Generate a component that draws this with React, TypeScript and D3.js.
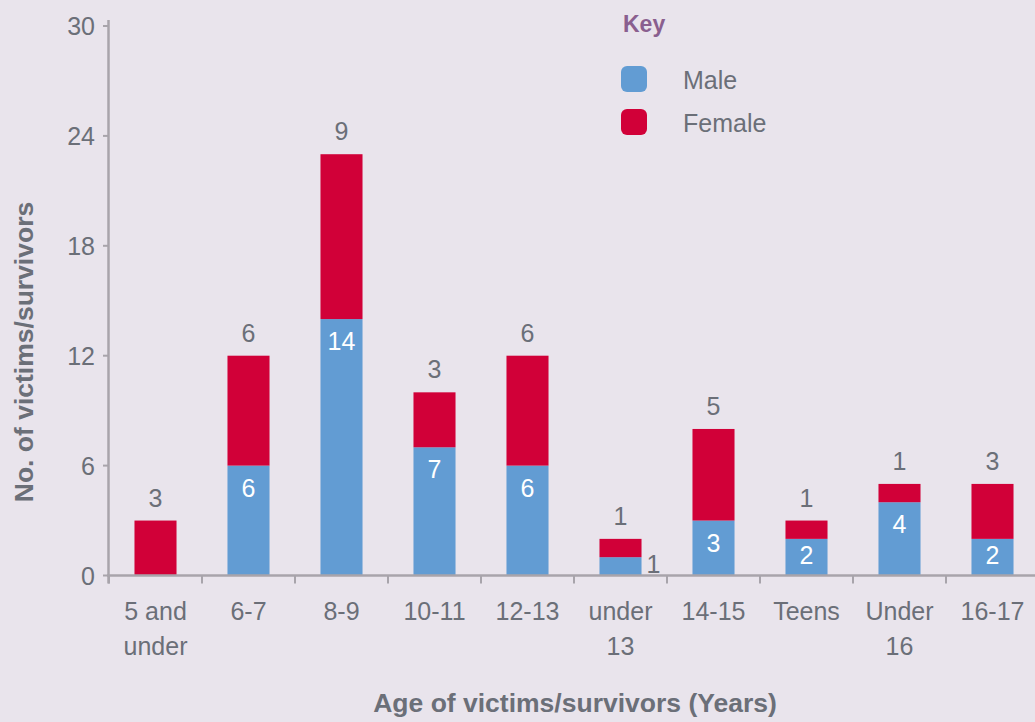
import React, { useEffect } from "react";
import * as d3 from "d3";

const categories = ["5 and under", "6-7", "8-9", "10-11", "12-13", "under 13", "14-15", "Teens", "Under 16", "16-17"];
const categoryLines = [["5 and", "under"], ["6-7"], ["8-9"], ["10-11"], ["12-13"], ["under", "13"], ["14-15"], ["Teens"], ["Under", "16"], ["16-17"]];
const male = [0, 6, 14, 7, 6, 1, 3, 2, 4, 2];
const female = [3, 6, 9, 3, 6, 1, 5, 1, 1, 3];
const yTicks = [0, 6, 12, 18, 24, 30];
const seriesNames = ["Male", "Female"];

const W = 1035;
const H = 722;
const BG = "#e9e4ec";
const MALE_C = "#629cd3";
const FEMALE_C = "#d10038";
const TEXT_C = "#6b6f78";
const AXIS_C = "#a8a4ab";
const FONT = "'Liberation Sans', Arial, Helvetica, sans-serif";

export default function App() {
  useEffect(() => {
    document.body.style.margin = "0";
    document.body.style.background = BG;
  }, []);

  const x = d3.scaleBand<string>().domain(categories).range([109, 1039]).padding(0);
  const y = d3.scaleLinear().domain([0, 30]).range([575.5, 26]);
  const bw = x.bandwidth() * 0.452;
  const axisY = y(0);
  const colors = [MALE_C, FEMALE_C];

  return (
    <svg width={W} height={H} style={{ display: "block", background: BG, fontFamily: FONT }}>
      <rect x={0} y={0} width={W} height={H} fill={BG} />
      {/* bars */}
      {categories.map((c, i) => {
        const cx = (x(c) as number) + x.bandwidth() / 2;
        const m = male[i];
        const f = female[i];
        const yMaleTop = y(m);
        const yTop = y(m + f);
        const segH = axisY - yMaleTop;
        return (
          <g key={c}>
            {m > 0 && (
              <rect x={cx - bw / 2} y={yMaleTop} width={bw} height={segH} fill={MALE_C} />
            )}
            {f > 0 && (
              <rect x={cx - bw / 2} y={yTop} width={bw} height={yMaleTop - yTop} fill={FEMALE_C} />
            )}
            {f > 0 && (
              <text x={cx} y={yTop - 14} textAnchor="middle" fontSize={25} fill={TEXT_C}>
                {f}
              </text>
            )}
            {m > 0 && segH >= 25 && (
              <text x={cx} y={Math.min(yMaleTop + 31, axisY - 12)} textAnchor="middle" fontSize={25} fill="#ffffff">
                {m}
              </text>
            )}
            {m > 0 && segH < 25 && (
              <text x={cx + bw / 2 + 5} y={axisY - 3} textAnchor="start" fontSize={25} fill={TEXT_C}>
                {m}
              </text>
            )}
            {categoryLines[i].map((ln, k) => (
              <text key={k} x={cx} y={620 + k * 35} textAnchor="middle" fontSize={25} fill={TEXT_C}>
                {ln}
              </text>
            ))}
          </g>
        );
      })}
      {/* x axis */}
      <line x1={107} x2={W} y1={axisY} y2={axisY} stroke={AXIS_C} strokeWidth={2.5} />
      {categories.map((c) => (
        <line key={c} x1={x(c) as number} x2={x(c) as number} y1={axisY} y2={axisY + 8} stroke={AXIS_C} strokeWidth={2} />
      ))}
      {/* y axis */}
      <line x1={108.5} x2={108.5} y1={y(30) - 6} y2={axisY + 8} stroke={AXIS_C} strokeWidth={2.5} />
      {yTicks.map((t) => (
        <g key={t}>
          <line x1={103} x2={108.5} y1={y(t)} y2={y(t)} stroke={AXIS_C} strokeWidth={2} />
          <text x={95} y={y(t) + 9} textAnchor="end" fontSize={25} fill={TEXT_C}>
            {t}
          </text>
        </g>
      ))}
      {/* axis titles */}
      <text x={575} y={712} textAnchor="middle" fontSize={26.5} fontWeight="bold" fill={TEXT_C}>
        Age of victims/survivors (Years)
      </text>
      <text transform={`translate(33,352) rotate(-90)`} textAnchor="middle" fontSize={26.5} fontWeight="bold" fill={TEXT_C}>
        No. of victims/survivors
      </text>
      {/* legend */}
      <text x={623} y={32} fontSize={23} fontWeight="bold" fill="#8a5f8f">
        Key
      </text>
      {seriesNames.map((s, i) => (
        <g key={s}>
          <rect x={621} y={66 + i * 43} width={26} height={26} rx={6} fill={colors[i]} />
          <text x={683} y={89 + i * 43} fontSize={25} fill={TEXT_C}>
            {s}
          </text>
        </g>
      ))}
    </svg>
  );
}
